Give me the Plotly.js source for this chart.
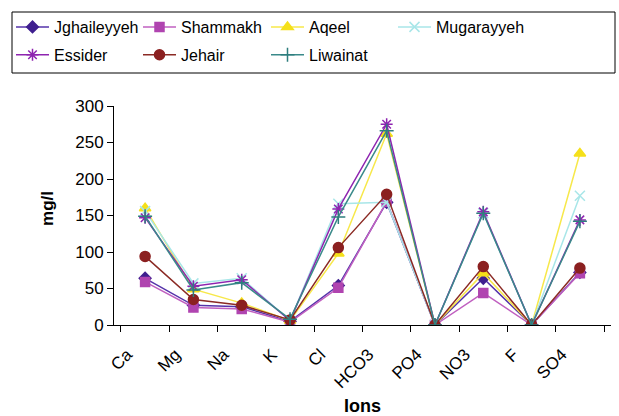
<!DOCTYPE html>
<html><head><meta charset="utf-8">
<script src="https://cdn.plot.ly/plotly-3.0.1.min.js"></script>
<style>html,body{margin:0;padding:0;background:#fff}#c{width:619px;height:416px}</style>
</head><body><div id="c"></div>
<script>
const ions = ["Ca","Mg","Na","K","Cl","HCO3","PO4","NO3","F","SO4"];
const jghaileyyeh = [64, 27, 25, 5, 54, 168, 0, 64, 0, 72];
const shammakh    = [59, 24, 22, 4, 51, 169, 0, 44, 0, 71];
const aqeel       = [160, 49, 30, 6, 98, 262, 0, 71, 0, 235];
const mugarayyeh  = [156, 57, 64, 6, 166, 168, 0, 153, 0, 177];
const essider     = [147, 53, 62, 6, 159, 275, 0, 155, 0, 144];
const jehair      = [94, 35, 27, 7, 106, 179, 0, 80, 0, 78];
const liwainat    = [149, 48, 58, 8, 148, 266, 0, 153, 0, 142];
const yTitle = "mg/l";

const series = [
  {name:"Jghaileyyeh", y:jghaileyyeh, line:"#5533AA", mc:"#3F1F8F", sym:"diamond", size:9, lg:"legend"},
  {name:"Shammakh", y:shammakh, line:"#C060C0", mc:"#B044B0", sym:"square", size:9, lg:"legend2"},
  {name:"Aqeel", y:aqeel, line:"#F7E84A", mc:"#F5E01A", sym:"triangle-up", size:10, lg:"legend3"},
  {name:"Mugarayyeh", y:mugarayyeh, line:"#A8E6E8", mc:"#A8E6E8", sym:"x-thin-open", size:10, lg:"legend4"},
  {name:"Essider", y:essider, line:"#8E24B0", mc:"#8E24B0", sym:"asterisk-open", size:10, lg:"legend"},
  {name:"Jehair", y:jehair, line:"#8B2A24", mc:"#8B2020", sym:"circle", size:10, lg:"legend2"},
  {name:"Liwainat", y:liwainat, line:"#3A8A8A", mc:"#2E7E7E", sym:"cross-thin-open", size:10, lg:"legend3"}
];

const traces = series.map(s => ({
  type:"scatter", mode:"lines+markers", name:s.name, x:ions, y:s.y,
  legend:s.lg, legendgroup:s.name,
  line:{color:s.line, width:1.5},
  marker:{symbol:s.sym, size:s.size, color:s.mc, line:{color:s.mc, width:1.5}}
}));

function leg(xpx){
  return {orientation:"v", xref:"container", yref:"container", x:xpx/619, xanchor:"left",
    y:1-10/416, yanchor:"top", borderwidth:0, bgcolor:"rgba(0,0,0,0)",
    font:{size:16}, tracegroupgap:4, itemwidth:33};
}

const layout = {
  width:619, height:416,
  margin:{l:114, r:8, t:106, b:91, autoexpand:false},
  paper_bgcolor:"#fff", plot_bgcolor:"#fff",
  font:{family:"Liberation Sans, Arial, sans-serif", size:16, color:"#000"},
  showlegend:true,
  legend:leg(11), legend2:leg(138), legend3:leg(266), legend4:leg(393),
  shapes:[{type:"rect", xref:"paper", yref:"paper",
    x0:(12-114)/497, x1:(615-114)/497, y0:(325-73)/219, y1:(325-12)/219,
    line:{color:"#000", width:1}, fillcolor:"rgba(0,0,0,0)"}],
  annotations:[{text:yTitle, textangle:-90, xref:"paper", yref:"paper",
    x:(48-114)/497, y:0.53, xanchor:"center", yanchor:"middle", showarrow:false,
    font:{size:17, weight:"bold", color:"#000"}}],
  xaxis:{type:"category", showline:true, linecolor:"#000", linewidth:1,
    ticks:"outside", ticklen:6, tickcolor:"#000", tickson:"boundaries",
    tickangle:-45, showgrid:false, zeroline:false,
    ticklabelshift:-18, ticklabelstandoff:12,
    title:{text:"Ions\u00a0\u00a0\u00a0\u00a0\u00a0", font:{size:18, weight:"bold"}, standoff:12},
    tickfont:{size:17}},
  yaxis:{range:[0,300], dtick:50, showline:true, linecolor:"#000", linewidth:1,
    ticks:"outside", ticklen:6, tickcolor:"#000", showgrid:false, zeroline:false,
    tickfont:{size:17}}
};
Plotly.newPlot("c", traces, layout, {displayModeBar:false, staticPlot:true});
</script></body></html>
